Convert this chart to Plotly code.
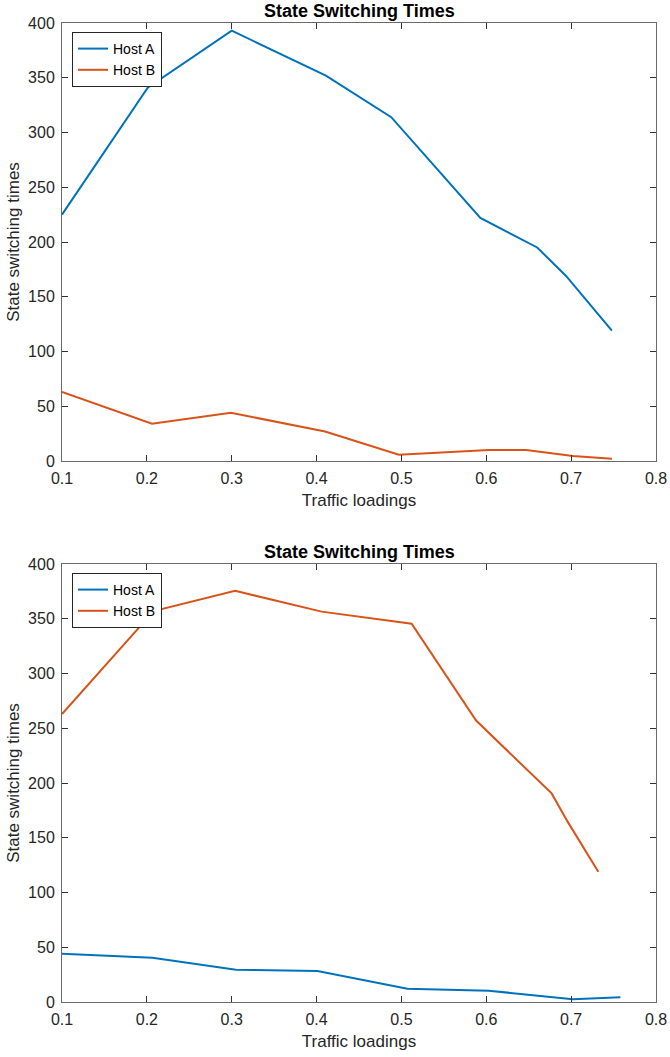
import plotly.graph_objects as go
from plotly.subplots import make_subplots

# Top chart data
top_x_a = [0.1, 0.201, 0.3, 0.411, 0.488, 0.593, 0.660, 0.694, 0.748]
top_y_a = [225, 341, 393, 352, 314, 222, 195, 169, 119]
top_x_b = [0.1, 0.206, 0.299, 0.41, 0.497, 0.603, 0.647, 0.702, 0.748]
top_y_b = [63, 34, 44, 27, 5.7, 10, 10, 4.5, 2]

# Bottom chart data
bot_x_a = [0.1, 0.2065, 0.305, 0.401, 0.507, 0.603, 0.702, 0.758]
bot_y_a = [44, 40.5, 29.5, 28.3, 12.2, 10.3, 2.5, 4.3]
bot_x_b = [0.1, 0.208, 0.304, 0.406, 0.512, 0.588, 0.677, 0.696, 0.732]
bot_y_b = [263, 357, 375.5, 356.5, 345.5, 257, 190.5, 164.5, 119]

title_text = "State Switching Times"
x_title = "Traffic loadings"
y_title = "State switching times"
x_ticks = [0.1, 0.2, 0.3, 0.4, 0.5, 0.6, 0.7, 0.8]
y_ticks = [0, 50, 100, 150, 200, 250, 300, 350, 400]

BLUE = "#0072BD"
ORANGE = "#D95319"
FONT = "Liberation Sans"
TXT = "#262626"

fig = make_subplots(rows=2, cols=1, vertical_spacing=0.1)

fig.add_trace(go.Scatter(x=top_x_a, y=top_y_a, mode="lines", name="Host A",
                         line=dict(color=BLUE, width=2), legend="legend"), row=1, col=1)
fig.add_trace(go.Scatter(x=top_x_b, y=top_y_b, mode="lines", name="Host B",
                         line=dict(color=ORANGE, width=2), legend="legend"), row=1, col=1)
fig.add_trace(go.Scatter(x=bot_x_a, y=bot_y_a, mode="lines", name="Host A",
                         line=dict(color=BLUE, width=2), legend="legend2"), row=2, col=1)
fig.add_trace(go.Scatter(x=bot_x_b, y=bot_y_b, mode="lines", name="Host B",
                         line=dict(color=ORANGE, width=2), legend="legend2"), row=2, col=1)

W, H = 670, 1057
ml, mr, mt, mb = 62, 14, 23, 55
pw = W - ml - mr
ph = H - mt - mb
top_dom = [(1002 - 461) / ph, 1.0]
bot_dom = [0.0, (1002 - 564) / ph]

axis_common = dict(showline=True, linecolor="#6a6a6a", linewidth=1, mirror="ticks",
                   ticks="inside", ticklen=6, tickcolor="#333333", showgrid=False,
                   zeroline=False, automargin=False,
                   tickfont=dict(family=FONT, size=16, color=TXT))

for r, dom in ((1, top_dom), (2, bot_dom)):
    fig.update_xaxes(range=[0.1, 0.8], tickvals=x_ticks,
                     ticktext=[f"{v:.1f}" for v in x_ticks],
                     ticklabelstandoff=3,
                     title=dict(text=x_title, font=dict(family=FONT, size=17, color=TXT), standoff=7),
                     row=r, col=1, **axis_common)
    fig.update_yaxes(range=[0, 400], tickvals=y_ticks, domain=dom,
                     ticklabelstandoff=3,
                     title=dict(text=y_title, font=dict(family=FONT, size=17, color=TXT), standoff=4),
                     row=r, col=1, **axis_common)

for dom in (top_dom, bot_dom):
    fig.add_annotation(text="<b>" + title_text + "</b>", xref="paper", yref="paper",
                       x=0.5, y=dom[1], xanchor="center", yanchor="bottom", yshift=0,
                       showarrow=False, font=dict(family=FONT, size=18, color="black"))

legend_common = dict(bgcolor="white", bordercolor=TXT, borderwidth=1,
                     font=dict(family=FONT, size=14, color="black"),
                     xanchor="left", yanchor="top", tracegroupgap=0, itemwidth=30)

fig.update_layout(
    width=W, height=H,
    margin=dict(l=ml, r=mr, t=mt, b=mb),
    paper_bgcolor="white", plot_bgcolor="white",
    showlegend=True,
    legend=dict(x=(72 - ml) / pw, y=(1002 - 32) / ph, **legend_common),
    legend2=dict(x=(72 - ml) / pw, y=(1002 - 573) / ph, **legend_common),
)

# remove the default 8px page margin so the figure fills the window exactly
fig.write_html("out.html",
               config={"displayModeBar": False},
               post_script="document.body.style.margin='0';document.body.style.overflow='hidden';")
